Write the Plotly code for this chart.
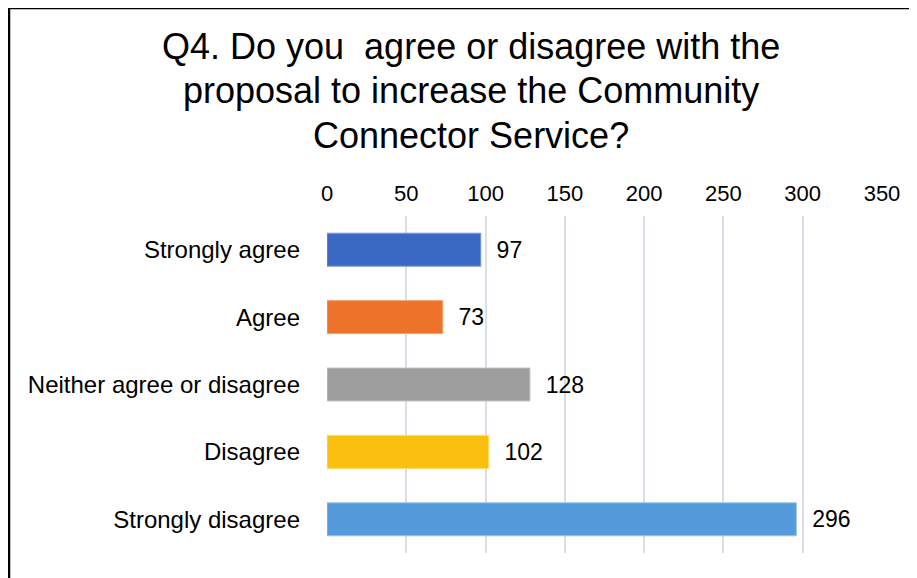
import plotly.graph_objects as go

categories = ["Strongly agree", "Agree", "Neither agree or disagree", "Disagree", "Strongly disagree"]
counts = [97, 73, 128, 102, 296]
bar_colors = ["#3A69C4", "#EC7329", "#9E9E9E", "#FBC00F", "#559BDB"]
edge_colors = ["#7A9AD8", "#F2A574", "#C4C4C4", "#FFD966", "#9DC3E6"]
x_ticks = [0, 50, 100, 150, 200, 250, 300, 350]

title_lines = ["Q4. Do you\u00a0 agree or disagree with the",
               "proposal to increase the Community",
               "Connector Service?"]

# figure pixel layout (page body adds an 8px offset in the browser)
W, H = 917, 578
L, T, PW, PH = 319, 208, 555, 337


def px(x):
    return (x - L) / PW


def py(y):
    return (T + PH - y) / PH


fig = go.Figure()
fig.add_trace(go.Bar(
    y=categories, x=counts, orientation="h",
    marker=dict(color=bar_colors, line=dict(color=edge_colors, width=1)),
    text=counts, texttemplate="\u00a0\u00a0%{x}", textposition="outside",
    textfont=dict(size=23, color="black"),
    cliponaxis=False,
))

fig.update_layout(
    width=W, height=H,
    margin=dict(l=L, r=W - L - PW, t=T, b=H - T - PH),
    paper_bgcolor="white", plot_bgcolor="white",
    font=dict(family="Liberation Sans, Arial, sans-serif", color="black"),
    showlegend=False,
    bargap=0.51,
)
fig.update_xaxes(side="top", range=[0, 350], tickvals=x_ticks,
                 showgrid=True, gridcolor="#D9DEE8", gridwidth=2,
                 zeroline=False, showline=False,
                 tickfont=dict(size=22), ticklabelstandoff=10)
fig.update_yaxes(autorange="reversed", showgrid=False, showline=False,
                 tickfont=dict(size=24), ticklabelstandoff=26)

# title, one line per annotation to get the original line spacing
for i, line in enumerate(title_lines):
    fig.add_annotation(text=line, xref="paper", yref="paper",
                       x=px(463), y=py(39 + 44 * i),
                       xanchor="center", yanchor="middle", showarrow=False,
                       font=dict(size=36, color="black"))

# outer frame of the chart
fig.add_shape(type="rect", xref="paper", yref="paper",
              x0=px(1), x1=px(W + 20), y0=py(H + 20), y1=py(0),
              line=dict(color="black", width=2.5), layer="above")

fig.write_html("out.html")
